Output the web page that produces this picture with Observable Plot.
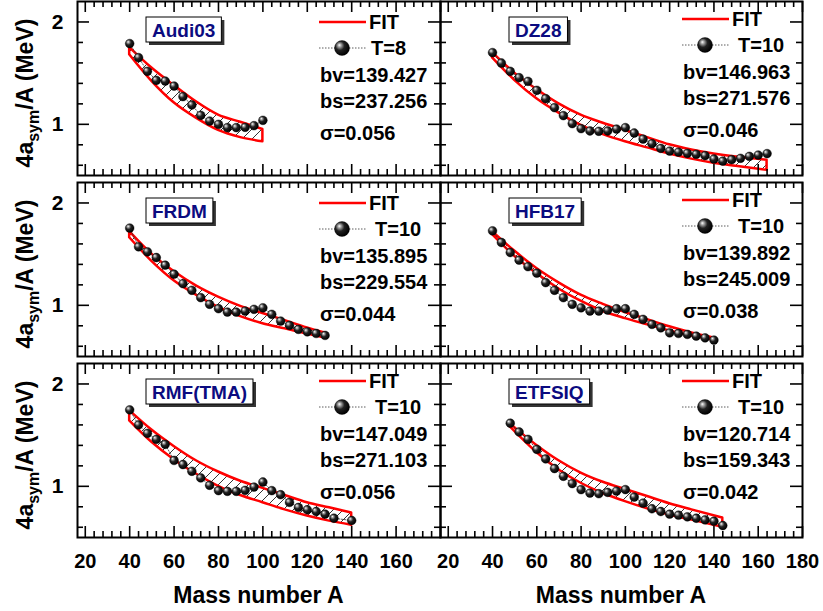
<!DOCTYPE html>
<html><head><meta charset="utf-8">
<script src="https://cdn.jsdelivr.net/npm/d3@7"></script>
<script src="https://cdn.jsdelivr.net/npm/@observablehq/plot@0.6"></script>
<style>
body{margin:0;background:#fff}
#chart{position:relative;width:823px;height:611px;font-family:"Liberation Sans",Arial,sans-serif;background:#fff}
#chart svg{position:absolute;overflow:visible;background:transparent}
</style></head><body><div id="chart"></div>
<script>
// ---------- data ----------
const modelNames = ["Audi03", "DZ28", "FRDM", "HFB17", "RMF(TMA)", "ETFSIQ"];
const tempLabels = ["T=8", "T=10", "T=10", "T=10", "T=10", "T=10"];
const bvLabels = ["bv=139.427", "bv=146.963", "bv=135.895", "bv=139.892", "bv=147.049", "bv=120.714"];
const bsLabels = ["bs=237.256", "bs=271.576", "bs=229.554", "bs=245.009", "bs=271.103", "bs=159.343"];
const sigmaLabels = ["σ=0.056", "σ=0.046", "σ=0.044", "σ=0.038", "σ=0.056", "σ=0.042"];

const xTickLabelsLeft = [20, 40, 60, 80, 100, 120, 140, 160];
const xTickLabelsRight = [20, 40, 60, 80, 100, 120, 140, 160, 180];
const yTickLabels = [1, 2];

// Audi03
const audi03Mass = [40, 44, 48, 52, 56, 60, 64, 68, 72, 76, 80, 84, 88, 92, 96, 100];
const audi03Value = [1.789, 1.652, 1.518, 1.430, 1.423, 1.374, 1.271, 1.189, 1.088, 1.032, 1.000, 0.968, 0.968, 0.971, 0.987, 1.039];
const audi03BandMass = [40, 50, 60, 70, 80, 90, 100];
const audi03Upper = [1.75, 1.55, 1.38, 1.22, 1.09, 1.02, 0.95];
const audi03Lower = [1.68, 1.42, 1.21, 1.06, 0.94, 0.87, 0.83];

// DZ28
const dz28Mass = [40, 44, 48, 52, 56, 60, 64, 68, 72, 76, 80, 84, 88, 92, 96, 100, 104, 108, 112, 116, 120, 124, 128, 132, 136, 140, 144, 148, 152, 156, 160, 164];
const dz28Value = [1.701, 1.599, 1.518, 1.456, 1.420, 1.332, 1.251, 1.163, 1.085, 1.007, 0.958, 0.935, 0.932, 0.935, 0.954, 0.968, 0.915, 0.856, 0.811, 0.765, 0.739, 0.729, 0.717, 0.707, 0.694, 0.661, 0.641, 0.655, 0.668, 0.687, 0.700, 0.714];
const dz28BandMass = [40, 50, 60, 70, 80, 90, 100, 110, 120, 130, 140, 150, 164];
const dz28Upper = [1.70, 1.50, 1.34, 1.20, 1.09, 1.01, 0.94, 0.87, 0.80, 0.75, 0.71, 0.68, 0.65];
const dz28Lower = [1.65, 1.43, 1.25, 1.11, 0.99, 0.90, 0.83, 0.77, 0.71, 0.66, 0.62, 0.59, 0.55];

// FRDM
const frdmMass = [40, 44, 48, 52, 56, 60, 64, 68, 72, 76, 80, 84, 88, 92, 96, 100, 104, 108, 112, 116, 120, 124, 128];
const frdmValue = [1.755, 1.572, 1.523, 1.467, 1.392, 1.304, 1.212, 1.147, 1.075, 1.010, 0.967, 0.934, 0.934, 0.944, 0.961, 0.976, 0.912, 0.846, 0.804, 0.765, 0.741, 0.725, 0.706];
const frdmBandMass = [40, 50, 60, 70, 80, 90, 100, 110, 120, 128];
const frdmUpper = [1.72, 1.50, 1.33, 1.19, 1.08, 0.99, 0.92, 0.85, 0.78, 0.73];
const frdmLower = [1.66, 1.43, 1.24, 1.10, 0.98, 0.89, 0.82, 0.77, 0.72, 0.68];

// HFB17
const hfb17Mass = [40, 44, 48, 52, 56, 60, 64, 68, 72, 76, 80, 84, 88, 92, 96, 100, 104, 108, 112, 116, 120, 124, 128, 132, 136, 140];
const hfb17Value = [1.728, 1.614, 1.516, 1.441, 1.378, 1.314, 1.222, 1.147, 1.075, 1.010, 0.976, 0.944, 0.944, 0.954, 0.967, 0.967, 0.912, 0.863, 0.814, 0.780, 0.731, 0.725, 0.716, 0.699, 0.682, 0.660];
const hfb17BandMass = [40, 50, 60, 70, 80, 90, 100, 110, 120, 130, 140];
const hfb17Upper = [1.72, 1.53, 1.36, 1.22, 1.10, 1.01, 0.93, 0.86, 0.79, 0.73, 0.68];
const hfb17Lower = [1.69, 1.48, 1.31, 1.16, 1.04, 0.94, 0.87, 0.81, 0.75, 0.70, 0.66];

// RMF(TMA)
const rmfMass = [40, 44, 48, 52, 56, 60, 64, 68, 72, 76, 80, 84, 88, 92, 96, 100, 104, 108, 112, 116, 120, 124, 128, 132, 140];
const rmfValue = [1.747, 1.600, 1.518, 1.459, 1.410, 1.253, 1.213, 1.147, 1.082, 1.010, 0.958, 0.951, 0.951, 0.961, 0.993, 1.042, 0.958, 0.918, 0.843, 0.794, 0.771, 0.754, 0.728, 0.688, 0.666];
const rmfBandMass = [40, 50, 60, 70, 80, 90, 100, 110, 120, 130, 140];
const rmfUpper = [1.74, 1.55, 1.39, 1.25, 1.14, 1.05, 0.98, 0.91, 0.84, 0.79, 0.74];
const rmfLower = [1.64, 1.43, 1.26, 1.12, 1.00, 0.91, 0.84, 0.77, 0.71, 0.66, 0.62];

// ETFSIQ
const etfsiqMass = [48, 52, 56, 60, 64, 68, 72, 76, 80, 84, 88, 92, 96, 100, 104, 108, 112, 116, 120, 124, 128, 132, 136, 140, 144];
const etfsiqValue = [1.617, 1.531, 1.459, 1.361, 1.268, 1.174, 1.098, 1.027, 0.968, 0.934, 0.928, 0.941, 0.954, 0.968, 0.895, 0.836, 0.781, 0.754, 0.728, 0.718, 0.702, 0.688, 0.672, 0.659, 0.617];
const etfsiqBandMass = [48, 60, 70, 80, 90, 100, 110, 120, 130, 144];
const etfsiqUpper = [1.61, 1.40, 1.25, 1.13, 1.04, 0.97, 0.90, 0.83, 0.77, 0.69];
const etfsiqLower = [1.58, 1.33, 1.16, 1.03, 0.93, 0.85, 0.78, 0.72, 0.67, 0.60];

const massList = [audi03Mass, dz28Mass, frdmMass, hfb17Mass, rmfMass, etfsiqMass];
const valueList = [audi03Value, dz28Value, frdmValue, hfb17Value, rmfValue, etfsiqValue];
const bandMassList = [audi03BandMass, dz28BandMass, frdmBandMass, hfb17BandMass, rmfBandMass, etfsiqBandMass];
const upperList = [audi03Upper, dz28Upper, frdmUpper, hfb17Upper, rmfUpper, etfsiqUpper];
const lowerList = [audi03Lower, dz28Lower, frdmLower, hfb17Lower, rmfLower, etfsiqLower];

// ---------- layout ----------
const X_DOMAIN = [16.5, 180];
const Y_DOMAIN = [0.5, 2.2];
const COL_LEFT = [77, 440];
const FRAME_W = [363, 362];
const ROW_TOP = [1, 181.5, 362.5];
const FRAME_H = 174;
const majorX = d3.range(20, 181, 20);
const minorX = d3.range(20, 180, 4).filter(d => d % 20 !== 0);
const majorY = [1, 2];
const minorY = [0.6, 0.8, 1.2, 1.4, 1.6, 1.8];
const annotDy = [3, 0, 3, 0, 0, 0];
const FONT = "Liberation Sans, Arial, sans-serif";

const chart = document.getElementById("chart");

function defsMark(i) {
  return () => {
    const defs = d3.create("svg:defs");
    const pat = defs.append("pattern").attr("id", `hatch${i}`).attr("patternUnits", "userSpaceOnUse")
      .attr("width", 10).attr("height", 10);
    pat.append("path").attr("d", "M-1,11 L11,-1 M-2,2 L2,-2 M8,12 L12,8").attr("stroke", "#000").attr("stroke-width", 0.8);
    const g = defs.append("radialGradient").attr("id", `sphere${i}`).attr("cx", "40%").attr("cy", "40%").attr("r", "60%").attr("fx", "32%").attr("fy", "30%");
    g.append("stop").attr("offset", "0").attr("stop-color", "#ffffff");
    g.append("stop").attr("offset", "0.18").attr("stop-color", "#a8a8a8");
    g.append("stop").attr("offset", "0.5").attr("stop-color", "#222");
    g.append("stop").attr("offset", "1").attr("stop-color", "#000000");
    return defs.node();
  };
}

function addText(g, x, y, size, str, fill = "#000") {
  return g.append("text").attr("x", x).attr("y", y).attr("dy", "0.36em").attr("text-anchor", "start")
    .attr("font-size", size).attr("font-weight", "bold").attr("font-family", FONT).attr("fill", fill).text(str);
}

for (let i = 0; i < 6; i++) {
  const col = i % 2, row = Math.floor(i / 2);
  const isLeft = col === 0, isBottom = row === 2;
  const mL = isLeft ? 77 : 0, mR = isLeft ? 0 : 21, mT = 0, mB = isBottom ? 74 : 0;
  const W = FRAME_W[col], H = FRAME_H;
  const pts = massList[i].map((a, j) => ({A: a, v: valueList[i][j]}));
  const band = bandMassList[i].map((a, j) => ({A: a, hi: upperList[i][j], lo: lowerList[i][j]}));
  const tick = {stroke: "#000", strokeWidth: 1.6};
  const marks = [
    defsMark(i),
    Plot.areaY(band, {x: "A", y1: "lo", y2: "hi", fill: `url(#hatch${i})`, stroke: "#ff0000", strokeWidth: 2.5, curve: "monotone-x"}),
    Plot.line(pts, {x: "A", y: "v", stroke: "#333", strokeWidth: 0.8, strokeDasharray: "1.5,1.5"}),
    Plot.dot(pts, {x: "A", y: "v", r: 4.4, fill: `url(#sphere${i})`, stroke: "#000", strokeWidth: 0.4}),
    Plot.ruleX(majorX, {...tick, insetTop: H - 11}),
    Plot.ruleX(majorX, {...tick, insetBottom: H - 11}),
    Plot.ruleX(minorX, {...tick, insetTop: H - 6}),
    Plot.ruleX(minorX, {...tick, insetBottom: H - 6}),
    Plot.ruleY(majorY, {...tick, insetRight: W - 12}),
    Plot.ruleY(majorY, {...tick, insetLeft: W - 12}),
    Plot.ruleY(minorY, {...tick, insetRight: W - 6}),
    Plot.ruleY(minorY, {...tick, insetLeft: W - 6}),
    Plot.frame({stroke: "#000", strokeWidth: 2})
  ];
  if (isBottom) marks.push(Plot.axisX({anchor: "bottom", ticks: isLeft ? xTickLabelsLeft : xTickLabelsRight, tickSize: 0, tickPadding: 16, fontSize: 20, fontWeight: "bold", label: null, tickFormat: d => String(d)}));
  if (isLeft) marks.push(Plot.axisY({anchor: "left", ticks: yTickLabels, tickSize: 0, tickPadding: 14, fontSize: 21, fontWeight: "bold", label: null, tickFormat: d => String(d)}));

  const svg = Plot.plot({
    width: mL + W + mR, height: mT + H + mB,
    marginLeft: mL, marginRight: mR, marginTop: mT, marginBottom: mB,
    x: {domain: X_DOMAIN, axis: null},
    y: {domain: Y_DOMAIN, axis: null},
    style: {background: "transparent", overflow: "visible", fontFamily: FONT, fontWeight: "bold", color: "#000"},
    marks
  });
  svg.style.left = (COL_LEFT[col] - mL) + "px";
  svg.style.top = (ROW_TOP[row] - mT) + "px";
  chart.appendChild(svg);

  const s = d3.select(svg);
  const g = s.append("g").attr("transform", `translate(${mL},${mT})`);
  const dy = annotDy[i];
  // legend: FIT
  g.append("line").attr("x1", 242).attr("x2", 289).attr("y1", 18 + dy).attr("y2", 18 + dy).attr("stroke", "#ff0000").attr("stroke-width", 2.5);
  addText(g, 292, 18 + dy, 20, "FIT");
  // legend: points
  g.append("line").attr("x1", 242).attr("x2", 289).attr("y1", 44 + dy).attr("y2", 44 + dy).attr("stroke", "#333").attr("stroke-width", 0.8).attr("stroke-dasharray", "1.5,1.5");
  g.append("circle").attr("cx", 265).attr("cy", 44 + dy).attr("r", 7.5).attr("fill", `url(#sphere${i})`).attr("stroke", "#000").attr("stroke-width", 0.4);
  addText(g, i === 0 ? 294 : 298, 44 + dy, 20, tempLabels[i]);
  addText(g, 243, 71 + dy, 20, bvLabels[i]);
  addText(g, 243, 97 + dy, 20, bsLabels[i]);
  addText(g, 243, 129 + dy, 20, sigmaLabels[i]);
  // model label box
  const lab = g.append("g");
  const t = addText(lab, 75, 29, 19, modelNames[i], "#0b0b80");
  const bb = t.node().getBBox();
  const bx = 69, by = 16, bw = bb.width + 12, bh = 25;
  lab.insert("rect", "text").attr("x", bx + 3).attr("y", by + 3).attr("width", bw).attr("height", bh).attr("fill", "#333");
  lab.insert("rect", "text").attr("x", bx).attr("y", by).attr("width", bw).attr("height", bh).attr("fill", "#fff").attr("stroke", "#000").attr("stroke-width", 1);

  if (isLeft) {
    const yt = s.append("text").attr("transform", `translate(33,${mT + H / 2 + 5}) rotate(-90)`)
      .attr("text-anchor", "middle").attr("font-family", FONT).attr("font-weight", "bold").attr("font-size", 23);
    yt.append("tspan").text("4a");
    yt.append("tspan").attr("font-size", 16).attr("dy", 6).text("sym");
    yt.append("tspan").attr("dy", -6).text("/A (MeV)");
  }
  if (isBottom) {
    s.append("text").attr("x", mL + W / 2).attr("y", mT + H + 66).attr("text-anchor", "middle")
      .attr("font-family", FONT).attr("font-weight", "bold").attr("font-size", 23).text("Mass number A");
  }
}
</script></body></html>
